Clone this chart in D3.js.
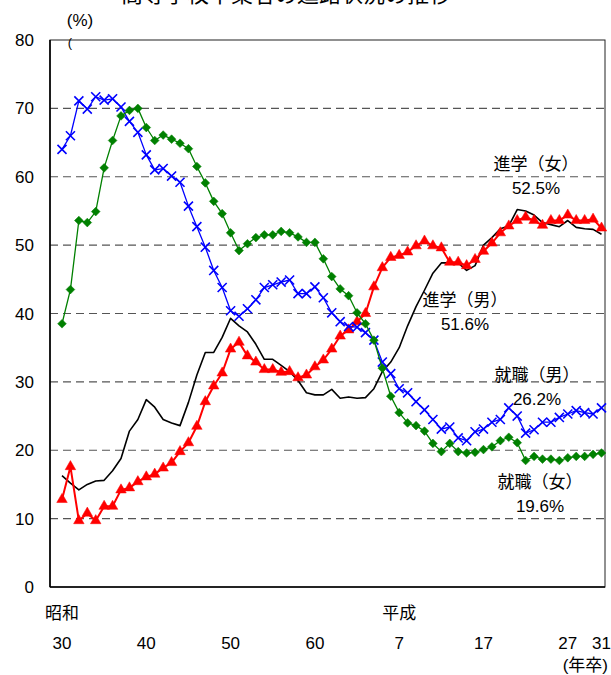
<!DOCTYPE html>
<html>
<head>
<meta charset="utf-8">
<script src="https://cdn.jsdelivr.net/npm/d3@7"></script>
<style>
  body { margin: 0; background: #fff; }
  text { font-family: 'Liberation Sans', 'Noto Sans CJK JP', sans-serif; fill: #000; }
</style>
</head>
<body>
<svg id="chart" width="611" height="675"></svg>
<script>
// 卒業年 (昭和30年 = 1955 ～ 平成31年 = 2019)
const years = d3.range(1955, 2020);

// 進学(男)
const shingakuMale = [
  16.3, 15.2, 14.2, 15.0, 15.5, 15.6, 17.0, 18.8, 22.8, 24.5,
  27.4, 26.3, 24.5, 24.0, 23.6, 27.0, 31.0, 34.3, 34.3, 36.5,
  39.3, 38.2, 37.3, 35.5, 33.3, 33.3, 32.4, 31.5, 30.2, 28.4,
  28.1, 28.1, 28.9, 27.6, 27.8, 27.6, 27.7, 29.0, 31.5, 32.9,
  35.0, 38.2, 41.0, 43.4, 45.9, 47.4, 47.4, 47.4, 46.3, 47.0,
  50.0, 51.1, 52.4, 52.8, 55.2, 55.0, 54.4, 53.3, 53.0, 52.7,
  53.6, 52.6, 52.4, 52.3, 51.6
];
// 進学(女)
const shingakuFemale = [
  12.8, 17.6, 9.7, 10.8, 9.7, 11.8, 11.8, 14.2, 14.5, 15.4,
  16.1, 16.5, 17.4, 18.2, 19.8, 21.1, 23.5, 27.1, 29.4, 31.3,
  34.8, 35.8, 33.8, 32.9, 31.8, 31.8, 31.4, 31.5, 30.6, 31.0,
  32.2, 33.2, 34.8, 36.7, 37.6, 38.8, 40.0, 43.9, 46.7, 48.2,
  48.5, 49.0, 49.9, 50.6, 49.9, 49.6, 47.5, 47.5, 47.0, 47.9,
  49.1, 50.3, 51.8, 52.8, 53.6, 54.1, 53.6, 52.9, 53.6, 53.6,
  54.4, 53.6, 53.6, 53.8, 52.5
];
// 就職(男)
const shushokuMale = [
  64.0, 66.0, 71.1, 69.9, 71.7, 71.2, 71.4, 70.2, 68.1, 66.5,
  63.2, 61.0, 61.2, 60.1, 59.2, 55.7, 52.7, 49.7, 46.3, 43.8,
  40.4, 39.6, 40.7, 42.0, 43.8, 44.2, 44.6, 44.9, 42.9, 42.9,
  43.9, 42.3, 40.1, 38.8, 38.1, 38.0, 37.2, 36.1, 32.9, 31.2,
  29.0, 28.4, 27.1, 25.9, 24.5, 23.1, 23.4, 21.8, 21.4, 22.7,
  23.1, 24.1, 24.5, 26.2, 25.0, 22.5, 23.0, 24.1, 24.1, 24.8,
  25.3, 25.8, 25.5, 25.3, 26.2
];
// 就職(女)
const shushokuFemale = [
  38.5, 43.5, 53.6, 53.3, 54.9, 61.3, 65.3, 68.9, 69.7, 70.0,
  67.2, 65.3, 66.1, 65.5, 64.9, 64.1, 61.5, 59.1, 56.4, 54.6,
  51.8, 49.2, 50.2, 51.1, 51.5, 51.5, 52.0, 51.8, 51.2, 50.4,
  50.4, 48.0, 45.4, 43.6, 42.6, 40.1, 38.5, 36.1, 32.0, 27.9,
  25.5, 24.0, 23.6, 22.8, 21.0, 19.8, 21.0, 19.8, 19.6, 19.7,
  20.1, 20.5, 21.4, 21.9, 21.1, 18.5, 19.1, 18.7, 18.7, 18.5,
  18.9, 19.1, 19.1, 19.4, 19.6
];

const yTicks = [0, 10, 20, 30, 40, 50, 60, 70, 80];
const xTickYears = [1955, 1965, 1975, 1985, 1995, 2005, 2015, 2019];
const xTickLabels = ['30', '40', '50', '60', '7', '17', '27', '31'];
const eraYears = [1955, 1995];
const eraLabels = ['昭和', '平成'];

const svg = d3.select('#chart');

const plot = { left: 50, right: 605, top: 40, bottom: 587 };

const x = d3.scaleLinear().domain([1955, 2019]).range([62, 601.5]);
const y = d3.scaleLinear().domain([0, 80]).range([plot.bottom, plot.top]);

// title (only its lower edge shows, as in the source picture)
svg.append('text')
  .attr('x', 286).attr('y', 2)
  .attr('text-anchor', 'middle')
  .style('font-size', '22px')
  .text('高等学校卒業者の進路状況の推移');

// grid lines
svg.append('g')
  .selectAll('line')
  .data(yTicks.filter(d => d > 0 && d < 80))
  .join('line')
    .attr('x1', plot.left).attr('x2', plot.right)
    .attr('y1', d => y(d)).attr('y2', d => y(d))
    .attr('stroke', '#555')
    .attr('stroke-width', 1.2)
    .attr('stroke-dasharray', '8,5');

// frame
svg.append('rect')
  .attr('x', plot.left).attr('y', plot.top)
  .attr('width', plot.right - plot.left)
  .attr('height', plot.bottom - plot.top)
  .attr('fill', 'none')
  .attr('stroke', '#222')
  .attr('stroke-width', 1);
svg.append('line')
  .attr('x1', plot.left).attr('x2', plot.left)
  .attr('y1', plot.top).attr('y2', plot.bottom)
  .attr('stroke', '#000').attr('stroke-width', 1.6);
svg.append('line')
  .attr('x1', plot.left).attr('x2', plot.right)
  .attr('y1', plot.bottom).attr('y2', plot.bottom)
  .attr('stroke', '#000').attr('stroke-width', 1.4);

// y labels
svg.append('g')
  .selectAll('text')
  .data(yTicks)
  .join('text')
    .attr('x', 34)
    .attr('y', d => y(d) + 6)
    .attr('text-anchor', 'end')
    .style('font-size', '17px')
    .text(d => d);

svg.append('text')
  .attr('x', 80).attr('y', 26)
  .attr('text-anchor', 'middle')
  .style('font-size', '17px')
  .text('(%)');
svg.append('text')
  .attr('x', 70).attr('y', 47)
  .attr('text-anchor', 'middle')
  .style('font-size', '13px')
  .text('(');

// x labels
svg.append('g')
  .selectAll('text')
  .data(xTickYears)
  .join('text')
    .attr('x', d => x(d))
    .attr('y', 649)
    .attr('text-anchor', 'middle')
    .style('font-size', '17px')
    .text((d, i) => xTickLabels[i]);

svg.append('g')
  .selectAll('text')
  .data(eraYears)
  .join('text')
    .attr('x', d => x(d))
    .attr('y', 619)
    .attr('text-anchor', 'middle')
    .style('font-size', '17px')
    .text((d, i) => eraLabels[i]);

svg.append('text')
  .attr('x', 608).attr('y', 671)
  .attr('text-anchor', 'end')
  .style('font-size', '17px')
  .text('(年卒)');

// series
const line = d3.line()
  .x((d, i) => x(years[i]))
  .y(d => y(d));

function drawSeries(values, color, width, symbol, size, filled, rotate) {
  const g = svg.append('g');
  g.append('path')
    .datum(values)
    .attr('d', line)
    .attr('fill', 'none')
    .attr('stroke', color)
    .attr('stroke-width', width)
    .attr('stroke-linejoin', 'round');
  if (!symbol) return;
  g.selectAll('path.mark')
    .data(values)
    .join('path')
      .attr('class', 'mark')
      .attr('d', d3.symbol().type(symbol).size(size))
      .attr('transform', (d, i) => `translate(${x(years[i])},${y(d)}) rotate(${rotate})`)
      .attr('fill', filled ? color : 'none')
      .attr('stroke', color)
      .attr('stroke-width', filled ? 0.5 : 1.6);
}

drawSeries(shingakuMale, '#000', 1.6, null);
drawSeries(shingakuFemale, '#ff0000', 2, d3.symbolTriangle, 48, true, 0);
drawSeries(shushokuMale, '#0000ff', 1.3, d3.symbolTimes, 55, false, 0);
drawSeries(shushokuFemale, '#008000', 1.3, d3.symbolSquare, 38, true, 45);

// annotations
const last = years.length - 1;
const notes = [
  { name: '進学（女）', value: shingakuFemale[last], cx: 536, ny: 170 },
  { name: '進学（男）', value: shingakuMale[last], cx: 465, ny: 306 },
  { name: '就職（男）', value: shushokuMale[last], cx: 537, ny: 381 },
  { name: '就職（女）', value: shushokuFemale[last], cx: 540, ny: 488 }
];
notes.forEach(n => {
  svg.append('text')
    .attr('x', n.cx).attr('y', n.ny)
    .attr('text-anchor', 'middle')
    .style('font-size', '17px')
    .text(n.name);
  svg.append('text')
    .attr('x', n.cx).attr('y', n.ny + 24)
    .attr('text-anchor', 'middle')
    .style('font-size', '17px')
    .text(n.value.toFixed(1) + '%');
});
</script>
</body>
</html>
